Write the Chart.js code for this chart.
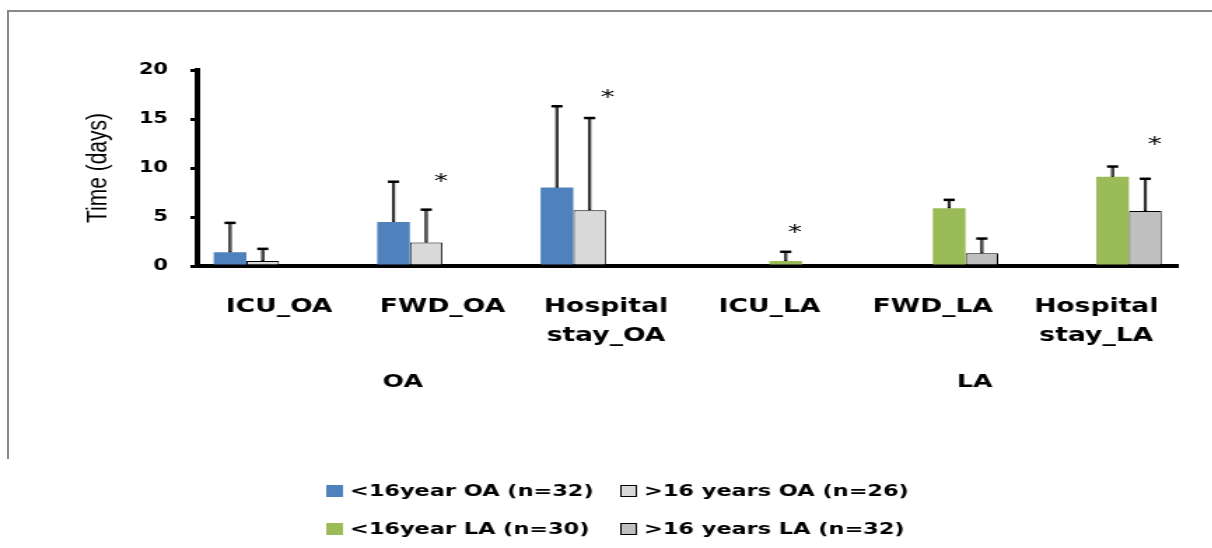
<!DOCTYPE html>
<html>
<head>
<meta charset="utf-8">
<script src="https://cdn.jsdelivr.net/npm/chart.js@4.4.0/dist/chart.umd.min.js"></script>
<style>
  html, body { margin: 0; padding: 0; background: #fff; }
  body { width: 1212px; height: 548px; overflow: hidden; position: relative; }
  #frame { position: absolute; left: 7px; top: 10px; width: 1300px; height: 447px;
           border-top: 2px solid #888; border-left: 2px solid #888; }
  /* the source picture is stretched sideways, so the canvas is too */
  #chart { position: absolute; left: 0; top: 0; transform-origin: 0 0; transform: scaleX(1.4); }
</style>
</head>
<body>
<div id="frame"></div>
<canvas id="chart" width="866" height="548"></canvas>
<script>
// categories (multi-line labels)
const categories = [['ICU_OA'], ['FWD_OA'], ['Hospital', 'stay_OA'], ['ICU_LA'], ['FWD_LA'], ['Hospital', 'stay_LA']];

// means (days)
const under16OA = [1.4, 4.5, 8.0, null, null, null];
const over16OA  = [0.5, 2.4, 5.7, null, null, null];
const under16LA = [null, null, null, 0.5, 5.9, 9.1];
const over16LA  = [null, null, null, 0, 1.3, 5.6];

// upper error bars (SD)
const under16OA_sd = [3.0, 4.1, 8.3, null, null, null];
const over16OA_sd  = [1.25, 3.35, 9.4, null, null, null];
const under16LA_sd = [null, null, null, 0.95, 0.85, 1.05];
const over16LA_sd  = [null, null, null, null, 1.5, 3.3];

const seriesLabels = ['<16year OA (n=32)', '>16 years OA (n=26)', '<16year LA (n=30)', '>16 years LA (n=32)'];

// significance stars: category position and value
const starPos = [0.99, 2.01, 3.155, 5.357];
const starVal = [9.1, 17.7, 3.9, 12.9];

// group labels under the categories
const groupLabels = ['OA', 'LA'];
const groupPos = [0.757, 4.256];

const yTicks = [0, 5, 10, 15, 20];

const extras = {
    id: 'extras',
    afterDatasetsDraw(chart) {
        const ctx = chart.ctx;
        const y = chart.scales.y;
        chart.data.datasets.forEach((ds, di) => {
            const meta = chart.getDatasetMeta(di);
            ds.sd.forEach((sd, i) => {
                const v = ds.data[i];
                if (v == null || sd == null) return;
                const bar = meta.data[i];
                const top = y.getPixelForValue(v + sd);
                ctx.save();
                ctx.strokeStyle = '#000';
                ctx.lineWidth = 2.2;
                ctx.beginPath(); ctx.moveTo(bar.x, bar.y); ctx.lineTo(bar.x, top); ctx.stroke();
                ctx.strokeStyle = '#808080';
                ctx.lineWidth = 0.8;
                ctx.beginPath(); ctx.moveTo(bar.x, bar.y - 1); ctx.lineTo(bar.x, top + 1); ctx.stroke();
                ctx.strokeStyle = '#000';
                ctx.lineWidth = 2.5;
                ctx.beginPath(); ctx.moveTo(bar.x - 4, top); ctx.lineTo(bar.x + 4, top); ctx.stroke();
                ctx.restore();
            });
        });
    },
    afterDraw(chart) {
        const ctx = chart.ctx;
        const x = chart.scales.x, y = chart.scales.y;
        const x0 = x.getPixelForValue(0);
        const step = x.getPixelForValue(1) - x0;
        ctx.save();
        ctx.fillStyle = '#000';
        ctx.textAlign = 'center';

        // stars
        ctx.font = '20px "DejaVu Sans"';
        ctx.textBaseline = 'alphabetic';
        starPos.forEach((p, i) => {
            ctx.fillText('*', x0 + p * step, y.getPixelForValue(starVal[i]) + 10.5);
        });

        // group labels
        ctx.font = 'bold 18px "DejaVu Sans"';
        ctx.textBaseline = 'middle';
        groupLabels.forEach((g, i) => {
            ctx.fillText(g, x0 + groupPos[i] * step, 382);
        });

        // legend, two per row
        const colX = [233, 443], rowY = [491, 529];
        ctx.font = 'bold 16px "DejaVu Sans"';
        ctx.textAlign = 'left';
        chart.data.datasets.forEach((ds, i) => {
            const bx = colX[i % 2], cy = rowY[Math.floor(i / 2)];
            ctx.fillStyle = ds.backgroundColor;
            ctx.fillRect(bx, cy - 6, 12, 12);
            if (ds.borderWidth) {
                ctx.strokeStyle = '#000';
                ctx.lineWidth = 1;
                ctx.strokeRect(bx + 0.5, cy - 5.5, 11, 11);
            }
            ctx.fillStyle = '#000';
            ctx.fillText(ds.label, bx + 17, cy + 1);
        });
        ctx.restore();
    }
};

new Chart(document.getElementById('chart'), {
    type: 'bar',
    data: {
        labels: categories,
        datasets: [
            { label: seriesLabels[0], data: under16OA, sd: under16OA_sd, backgroundColor: '#4f81bd', borderWidth: 0 },
            { label: seriesLabels[1], data: over16OA, sd: over16OA_sd, backgroundColor: '#d9d9d9', borderColor: '#000', borderWidth: 1 },
            { label: seriesLabels[2], data: under16LA, sd: under16LA_sd, backgroundColor: '#9bbb59', borderWidth: 0 },
            { label: seriesLabels[3], data: over16LA, sd: over16LA_sd, backgroundColor: '#bfbfbf', borderColor: '#000', borderWidth: 1 }
        ]
    },
    options: {
        responsive: false,
        animation: false,
        categoryPercentage: 0.8,
        barPercentage: 1.0,
        layout: { padding: { left: 1, right: 24.6, top: 70, bottom: 0 } },
        plugins: {
            legend: { display: false },
            tooltip: { enabled: false }
        },
        scales: {
            x: {
                z: 1,
                grid: { display: false, drawTicks: false },
                border: { display: true, color: '#000', width: 4 },
                ticks: {
                    color: '#000',
                    padding: 26,
                    font: { family: '"DejaVu Sans"', size: 19, weight: 'bold', lineHeight: 1.55 },
                    maxRotation: 0,
                    autoSkip: false
                },
                afterFit(scale) { scale.height = 282; }
            },
            y: {
                z: 1,
                min: 0,
                max: 20,
                afterBuildTicks(scale) { scale.ticks = yTicks.map(v => ({ value: v })); },
                grid: { drawOnChartArea: false, drawTicks: true, tickLength: 5, lineWidth: 3, color: '#000' },
                border: { display: true, color: '#000', width: 4 },
                ticks: {
                    color: '#000',
                    padding: 16,
                    font: { family: '"DejaVu Sans"', size: 15, weight: 'bold' }
                },
                title: {
                    display: true,
                    text: 'Time (days)',
                    color: '#000',
                    font: { family: '"Liberation Sans"', size: 21 },
                    padding: { top: 56.8, bottom: 0 }
                },
                afterFit(scale) { scale.width = 140; }
            }
        }
    },
    plugins: [extras]
});
</script>
</body>
</html>
